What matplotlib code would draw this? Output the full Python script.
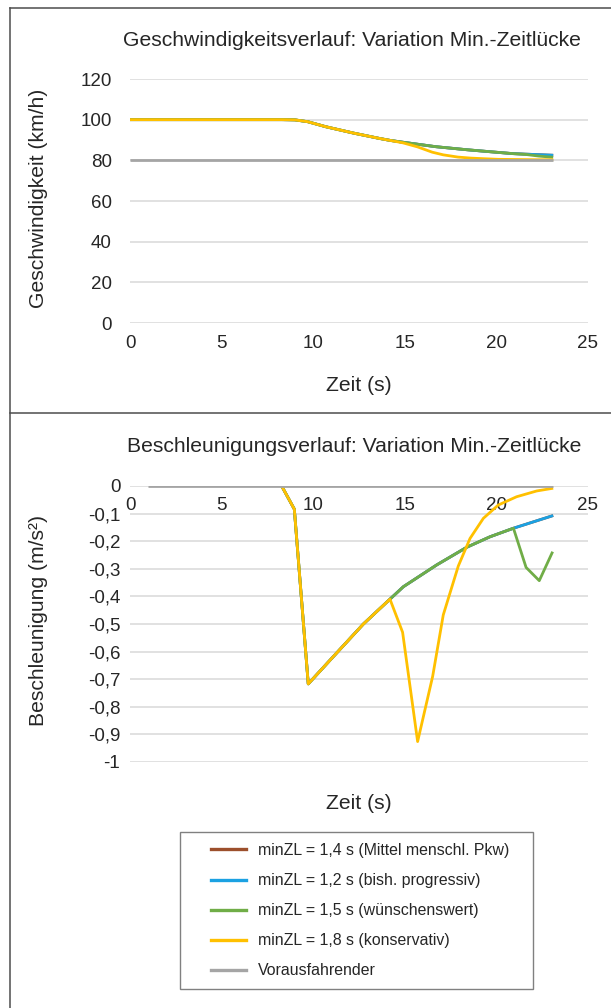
import matplotlib
matplotlib.use("Agg")
import matplotlib.pyplot as plt
from matplotlib.lines import Line2D
from matplotlib.patches import Rectangle

plt.rcParams['font.family'] = ['Liberation Sans', 'DejaVu Sans']

# ---------------- data ----------------
# Speed of the following vehicle (km/h) over time (s)
t_v_shared = [0, 8.3, 9.0, 9.7, 10.7, 12.2, 13.6, 14.2]
v_shared = [100, 100, 99.9, 99.0, 96.5, 93.4, 90.8, 89.8]

t_v_blue = t_v_shared + [14.9, 16.7, 18.4, 19.7, 20.9, 22.0, 23.1]
v_blue = v_shared + [88.9, 86.7, 85.2, 84.2, 83.3, 82.9, 82.5]
t_v_brown = t_v_blue
v_brown = v_blue
t_v_green = t_v_shared + [14.9, 16.7, 18.4, 19.7, 20.9, 21.6, 22.3, 23.1]
v_green = v_shared + [88.9, 86.7, 85.2, 84.2, 83.3, 82.9, 82.1, 81.5]
t_v_yellow = t_v_shared + [14.9, 15.7, 16.5, 17.1, 17.9, 18.6, 19.3, 20.1, 21.1, 22.2, 23.1]
v_yellow = v_shared + [88.6, 86.6, 84.0, 82.7, 81.6, 81.1, 80.8, 80.5, 80.4, 80.3, 80.3]
t_v_lead = [0, 23.1]
v_lead = [80, 80]

# Acceleration (m/s^2) over time (s)
t_a_shared = [8.28, 8.97, 9.73, 11.28, 12.74, 14.19]
a_shared = [0.0, -0.084, -0.717, -0.605, -0.500, -0.410]

t_a_blue = t_a_shared + [14.92, 16.74, 18.38, 19.65, 20.93, 23.10]
a_blue = a_shared + [-0.365, -0.286, -0.222, -0.184, -0.153, -0.107]
t_a_brown = t_a_blue
a_brown = a_blue
t_a_green = t_a_shared + [14.92, 16.74, 18.38, 19.65, 20.93, 21.62, 22.34, 23.07]
a_green = a_shared + [-0.365, -0.286, -0.222, -0.184, -0.153, -0.295, -0.343, -0.238]
t_a_yellow = t_a_shared + [14.88, 15.70, 16.52, 17.10, 17.92, 18.56, 19.29, 20.10, 21.10, 22.20, 23.10]
a_yellow = a_shared + [-0.530, -0.926, -0.690, -0.467, -0.290, -0.190, -0.117, -0.069, -0.039, -0.018, -0.008]
t_a_lead = [1.0, 23.1]
a_lead = [0.0, 0.0]

labels = [
    "minZL = 1,4 s (Mittel menschl. Pkw)",
    "minZL = 1,2 s (bish. progressiv)",
    "minZL = 1,5 s (wünschenswert)",
    "minZL = 1,8 s (konservativ)",
    "Vorausfahrender",
]
colors = ["#9C4F2C", "#1BA1E2", "#70AD47", "#FFC000", "#A5A5A5"]

x_ticks = [0, 5, 10, 15, 20, 25]
v_ticks = [0, 20, 40, 60, 80, 100, 120]
a_ticks = [0, -0.1, -0.2, -0.3, -0.4, -0.5, -0.6, -0.7, -0.8, -0.9, -1.0]
a_tick_labels = ["0", "-0,1", "-0,2", "-0,3", "-0,4", "-0,5", "-0,6", "-0,7", "-0,8", "-0,9", "-1"]

# ---------------- figure ----------------
W, H = 611, 1008
fig = plt.figure(figsize=(W / 100, H / 100), dpi=100)
fig.patch.set_facecolor("white")

text_col = "#262626"
grid_col = "#D9D9D9"
fs_tick = 13.5
fs_lab = 15.2
lw = 2.0


def fx(px):
    return px / W


def fy(py):
    return 1 - py / H


def style_axes(ax):
    for s in ax.spines.values():
        s.set_visible(False)
    ax.yaxis.grid(True, color=grid_col, lw=1.1)
    ax.xaxis.grid(False)
    ax.set_axisbelow(True)
    ax.tick_params(length=0, labelsize=fs_tick, colors=text_col)


# Speed chart
ax1 = fig.add_axes([fx(130), fy(323), fx(458), 244 / H])
style_axes(ax1)
series_v = [(t_v_brown, v_brown), (t_v_blue, v_blue), (t_v_green, v_green),
            (t_v_yellow, v_yellow), (t_v_lead, v_lead)]
for (t, v), c in zip(series_v, colors):
    ax1.plot(t, v, color=c, lw=lw, solid_capstyle="butt")
ax1.set_xlim(0, 25)
ax1.set_ylim(0, 120)
ax1.set_xticks(x_ticks)
ax1.set_yticks(v_ticks)
ax1.tick_params(axis="x", pad=9)
ax1.tick_params(axis="y", pad=13)
ax1.set_xlabel("Zeit (s)", fontsize=fs_lab, color=text_col, labelpad=17)
ax1.set_ylabel("Geschwindigkeit (km/h)", fontsize=fs_lab, color=text_col)
ax1.yaxis.set_label_coords((48 - 130) / 458, 0.512)

# Acceleration chart
ax2 = fig.add_axes([fx(130), fy(762), fx(458), 276 / H])
style_axes(ax2)
series_a = [(t_a_brown, a_brown), (t_a_blue, a_blue), (t_a_green, a_green),
            (t_a_yellow, a_yellow), (t_a_lead, a_lead)]
for (t, a), c in zip(series_a, colors):
    ax2.plot(t, a, color=c, lw=lw, solid_capstyle="butt")
ax2.set_xlim(0, 25)
ax2.set_ylim(-1.0, 0)
ax2.set_xticks(x_ticks)
ax2.set_yticks(a_ticks)
ax2.set_yticklabels(a_tick_labels)
ax2.tick_params(axis="x", labeltop=True, labelbottom=False, pad=-20.5)
ax2.tick_params(axis="y", pad=7)
ax2.xaxis.set_label_position("bottom")
ax2.set_xlabel("Zeit (s)", fontsize=fs_lab, color=text_col, labelpad=23)
ax2.set_ylabel("Beschleunigung (m/s²)", fontsize=fs_lab, color=text_col)
ax2.yaxis.set_label_coords((48 - 130) / 458, 0.514)

# Titles
fig.text(fx(352), fy(40), "Geschwindigkeitsverlauf: Variation Min.-Zeitlücke",
         ha="center", va="center", fontsize=fs_lab, color=text_col)
fig.text(fx(354), fy(447), "Beschleunigungsverlauf: Variation Min.-Zeitlücke",
         ha="center", va="center", fontsize=fs_lab, color=text_col)

# Panel frame lines
frame_col = "#4D4D4D"
fig.add_artist(Line2D([fx(10), fx(10)], [fy(8), fy(1008)], color=frame_col, lw=1.1))
fig.add_artist(Line2D([fx(10), fx(611)], [fy(8), fy(8)], color=frame_col, lw=1.1))
fig.add_artist(Line2D([fx(10), fx(611)], [fy(413), fy(413)], color=frame_col, lw=1.1))

# Legend
handles = [Line2D([], [], color=c, lw=2.4) for c in colors]
fig.add_artist(Rectangle((fx(180), fy(989)), fx(353), (989 - 832) / H,
                         transform=fig.transFigure, fill=False,
                         edgecolor="#808080", lw=1.0))
leg = fig.legend(handles, labels, loc="upper left",
                 bbox_to_anchor=(fx(211), fy(843)), frameon=False,
                 fontsize=11.4, handlelength=2.2, handletextpad=0.75,
                 labelspacing=0.95, borderpad=0, borderaxespad=0)
for txt in leg.get_texts():
    txt.set_color(text_col)

fig.savefig("out.png", dpi=100, facecolor="white")
